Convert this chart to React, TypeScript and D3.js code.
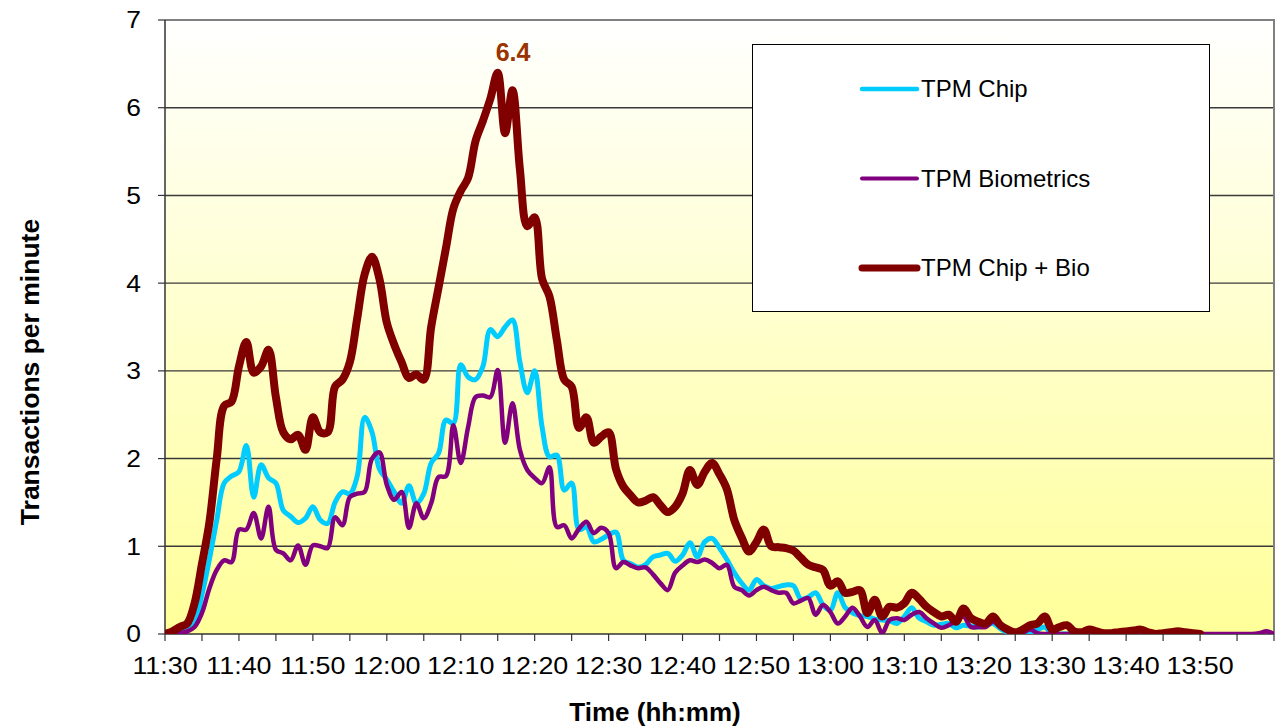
import React, { useEffect, useRef } from "react";
import * as d3 from "d3";

// one reading per minute, starting at 11:30
const chip = [
  0, 0.01, 0.02, 0.05, 0.12, 0.45, 0.85, 1.3, 1.72, 1.8,
  1.85, 2.15, 1.56, 1.93, 1.78, 1.72, 1.41, 1.34, 1.27, 1.32,
  1.45, 1.3, 1.26, 1.5, 1.62, 1.6, 1.8, 2.47, 2.3, 1.88,
  1.76, 1.62, 1.49, 1.69, 1.49, 1.6, 1.95, 2.06, 2.44, 2.4,
  3.07, 2.93, 2.9, 3.05, 3.47, 3.39, 3.5, 3.58, 3.1, 2.75,
  3.0, 2.36, 2.02, 2.04, 1.64, 1.72, 1.19, 1.22, 1.05, 1.08,
  1.13, 1.16, 0.84, 0.8, 0.76, 0.79, 0.88, 0.9, 0.92, 0.83,
  0.9, 1.04, 0.88, 1.05, 1.09, 0.98, 0.85, 0.7, 0.58, 0.5,
  0.62, 0.55, 0.52, 0.54, 0.56, 0.55, 0.4, 0.42, 0.47, 0.33,
  0.27, 0.47, 0.3, 0.24, 0.21, 0.2, 0.17, 0.16, 0.15, 0.12,
  0.2, 0.3, 0.18, 0.14, 0.1, 0.11, 0.12, 0.07, 0.1, 0.09,
  0.08, 0.1, 0.12, 0.06, 0.02, 0, 0, 0.02, 0.05, 0.08,
  0, 0, 0, 0, 0, 0, 0, 0, 0, 0,
  0, 0.03, 0, 0, 0, 0, 0, 0, 0, 0,
  0,
];

const bio = [
  0, 0, 0.01, 0.03, 0.08, 0.24, 0.52, 0.73, 0.84, 0.82,
  1.19, 1.19, 1.38, 1.09, 1.45, 0.96, 0.92, 0.84, 1.01, 0.79,
  1.01, 1.0, 0.98, 1.33, 1.24, 1.56, 1.6, 1.62, 2.0, 2.07,
  1.7, 1.53, 1.62, 1.21, 1.49, 1.32, 1.49, 1.79, 1.8, 2.38,
  1.95, 2.36, 2.7, 2.72, 2.7, 3.01, 2.18, 2.63, 2.1, 1.87,
  1.78, 1.72, 1.9, 1.22, 1.24, 1.09, 1.2, 1.28, 1.15, 1.21,
  1.15, 0.75, 0.82, 0.78, 0.75, 0.76, 0.68, 0.58, 0.5, 0.7,
  0.78, 0.84, 0.82, 0.85, 0.81, 0.75, 0.79, 0.54, 0.5, 0.44,
  0.5, 0.54, 0.5, 0.47, 0.47, 0.35, 0.38, 0.41, 0.22, 0.33,
  0.25, 0.12, 0.2, 0.3, 0.2, 0.08, 0.16, 0.01, 0.16, 0.18,
  0.16, 0.22, 0.25, 0.18, 0.12, 0.07, 0.1, 0.15, 0.2, 0.08,
  0.08, 0.08, 0.14, 0.08, 0.03, 0, 0.01, 0.05, 0.01, 0,
  0, 0, 0, 0, 0, 0, 0, 0, 0, 0,
  0, 0, 0, 0, 0, 0, 0, 0, 0, 0,
  0, 0, 0, 0, 0, 0, 0, 0, 0.01, 0.03,
  0,
];

const chipBio = [
  0, 0.03, 0.08, 0.12, 0.35, 0.8, 1.27, 2.0, 2.6, 2.65,
  3.05, 3.33, 2.98, 3.05, 3.24, 2.7, 2.3, 2.22, 2.27, 2.1,
  2.47, 2.3, 2.3, 2.82, 2.9, 3.1, 3.6, 4.1, 4.3, 4.05,
  3.55, 3.3, 3.1, 2.92, 2.96, 2.9, 3.5, 3.95, 4.4, 4.85,
  5.05, 5.2, 5.62, 5.85, 6.1, 6.4, 5.71, 6.2, 5.3, 4.65,
  4.75, 4.05, 3.85, 3.35, 2.9, 2.82, 2.35, 2.47, 2.18, 2.25,
  2.3, 1.88, 1.68, 1.58, 1.5, 1.52, 1.56, 1.47, 1.39, 1.45,
  1.6, 1.87, 1.7, 1.85, 1.95, 1.82, 1.65, 1.3, 1.1, 0.94,
  1.05, 1.19, 1.0, 0.99, 0.98, 0.95, 0.87, 0.79, 0.76, 0.73,
  0.55, 0.6, 0.47, 0.48, 0.5, 0.24, 0.39, 0.2, 0.31, 0.3,
  0.35, 0.47, 0.4, 0.31, 0.25, 0.2, 0.22, 0.14, 0.29, 0.18,
  0.14, 0.12, 0.2, 0.1, 0.05, 0.02, 0.05, 0.1, 0.12, 0.2,
  0.05, 0.08, 0.1, 0.03, 0.02, 0.05, 0.03, 0.01, 0.01, 0.02,
  0.03, 0.04, 0.05, 0.02, 0, 0.01, 0.02, 0.03, 0.02, 0.01,
  0,
];

const seriesNames = ["TPM Chip", "TPM Biometrics", "TPM Chip + Bio"];
const seriesColors = ["#00CCFF", "#800080", "#800000"];
const seriesWidths = [5, 4.5, 8];
const legendWidths = [4.5, 4, 7];

const yTicks = [0, 1, 2, 3, 4, 5, 6, 7];
const xLabels = [
  "11:30", "11:40", "11:50", "12:00", "12:10", "12:20", "12:30", "12:40",
  "12:50", "13:00", "13:10", "13:20", "13:30", "13:40", "13:50",
];

const FONT = "'Liberation Sans', Arial, sans-serif";

function drawChart(element) {
  d3.select(element).selectAll("*").remove();

  const W = 1276;
  const H = 728;
  const left = 165, right = 1274, top = 20, bottom = 634;

  const svg = d3
    .select(element)
    .append("svg")
    .attr("width", W)
    .attr("height", H)
    .style("position", "absolute")
    .style("left", "0px")
    .style("top", "0px")
    .style("font-family", FONT);

  const x = d3.scaleLinear().domain([0, 150]).range([left, right]);
  const y = d3.scaleLinear().domain([0, 7]).range([bottom, top]);

  const defs = svg.append("defs");
  const grad = defs
    .append("linearGradient")
    .attr("id", "bg")
    .attr("x1", 0).attr("y1", 0)
    .attr("x2", 0).attr("y2", 1);
  grad.append("stop").attr("offset", "0%").attr("stop-color", "#FFFFFF");
  grad.append("stop").attr("offset", "100%").attr("stop-color", "#FFFF99");

  defs
    .append("clipPath")
    .attr("id", "plot")
    .append("rect")
    .attr("x", left)
    .attr("y", top - 10)
    .attr("width", right - left)
    .attr("height", bottom - top + 10);

  // plot area
  svg
    .append("rect")
    .attr("x", left)
    .attr("y", top)
    .attr("width", right - left)
    .attr("height", bottom - top)
    .attr("fill", "url(#bg)");

  // gridlines
  svg
    .append("g")
    .selectAll("line")
    .data(yTicks.filter((d) => d > 0 && d < 7))
    .join("line")
    .attr("x1", left)
    .attr("x2", right)
    .attr("y1", (d) => y(d))
    .attr("y2", (d) => y(d))
    .attr("stroke", "#3a3a3a")
    .attr("stroke-width", 1.4);

  // top and right border
  svg
    .append("path")
    .attr("d", `M${left},${top}H${right}V${bottom}`)
    .attr("fill", "none")
    .attr("stroke", "#808080")
    .attr("stroke-width", 2);

  // y axis
  const yAxis = svg.append("g");
  yAxis
    .append("line")
    .attr("x1", left).attr("x2", left)
    .attr("y1", top).attr("y2", bottom)
    .attr("stroke", "#333")
    .attr("stroke-width", 1.5);
  yAxis
    .selectAll("line.tick")
    .data(yTicks)
    .join("line")
    .attr("class", "tick")
    .attr("x1", left - 7)
    .attr("x2", left)
    .attr("y1", (d) => y(d))
    .attr("y2", (d) => y(d))
    .attr("stroke", "#333")
    .attr("stroke-width", 1.2);
  yAxis
    .selectAll("text")
    .data(yTicks)
    .join("text")
    .attr("transform", (d) => `translate(141,${y(d)}) scale(1.1,1)`)
    .attr("dy", "0.35em")
    .attr("text-anchor", "end")
    .attr("font-size", 24)
    .attr("fill", "#000")
    .text((d) => d);

  // x axis
  const xAxis = svg.append("g");
  xAxis
    .append("line")
    .attr("x1", left).attr("x2", right)
    .attr("y1", bottom).attr("y2", bottom)
    .attr("stroke", "#333")
    .attr("stroke-width", 1.5);
  xAxis
    .selectAll("line.tick")
    .data(d3.range(0, 151, 5))
    .join("line")
    .attr("class", "tick")
    .attr("x1", (d) => x(d))
    .attr("x2", (d) => x(d))
    .attr("y1", bottom)
    .attr("y2", bottom + 7)
    .attr("stroke", "#333")
    .attr("stroke-width", 1.2);
  xAxis
    .selectAll("text")
    .data(xLabels)
    .join("text")
    .attr("transform", (d, i) => `translate(${x(i * 10)},666) scale(1.12,1)`)
    .attr("dy", "0.35em")
    .attr("text-anchor", "middle")
    .attr("font-size", 24)
    .attr("fill", "#000")
    .text((d) => d);

  // axis titles
  svg
    .append("text")
    .attr("transform", "translate(30,372) rotate(-90)")
    .attr("dy", "0.35em")
    .attr("text-anchor", "middle")
    .attr("font-size", 26.5)
    .attr("font-weight", "bold")
    .text("Transactions per minute");

  svg
    .append("text")
    .attr("transform", "translate(655,712) scale(1.04,1)")
    .attr("dy", "0.35em")
    .attr("text-anchor", "middle")
    .attr("font-size", 25)
    .attr("font-weight", "bold")
    .text("Time (hh:mm)");

  // lines
  const line = d3
    .line()
    .x((d, i) => x(i))
    .y((d) => y(d))
    .curve(d3.curveCatmullRom.alpha(0.5));

  const lines = svg.append("g").attr("clip-path", "url(#plot)");
  [chip, bio, chipBio].forEach((data, k) => {
    lines
      .append("path")
      .datum(data)
      .attr("fill", "none")
      .attr("stroke", seriesColors[k])
      .attr("stroke-width", seriesWidths[k])
      .attr("stroke-linejoin", "round")
      .attr("stroke-linecap", "round")
      .attr("d", line);
  });

  // peak label
  const peakIdx = d3.maxIndex(chipBio);
  svg
    .append("text")
    .attr("x", x(peakIdx) - 2)
    .attr("y", y(chipBio[peakIdx]) - 12)
    .attr("font-size", 25)
    .attr("font-weight", "bold")
    .attr("fill", "#993300")
    .text(d3.format(".1f")(chipBio[peakIdx]));

  // legend
  const legend = svg.append("g");
  legend
    .append("rect")
    .attr("x", 752.5)
    .attr("y", 44.5)
    .attr("width", 457)
    .attr("height", 267)
    .attr("fill", "#FFFFFF")
    .attr("stroke", "#000")
    .attr("stroke-width", 1);

  seriesNames.forEach((name, k) => {
    const ly = 89 + k * 89.5;
    legend
      .append("line")
      .attr("x1", 862)
      .attr("x2", 917)
      .attr("y1", ly)
      .attr("y2", ly)
      .attr("stroke", seriesColors[k])
      .attr("stroke-width", legendWidths[k])
      .attr("stroke-linecap", "round");
    legend
      .append("text")
      .attr("x", 921)
      .attr("y", ly)
      .attr("dy", "0.35em")
      .attr("font-size", 24)
      .attr("fill", "#000")
      .text(name);
  });
}

export default function App() {
  const ref = useRef(null);
  useEffect(() => {
    drawChart(ref.current);
  }, []);
  return <div ref={ref} />;
}
